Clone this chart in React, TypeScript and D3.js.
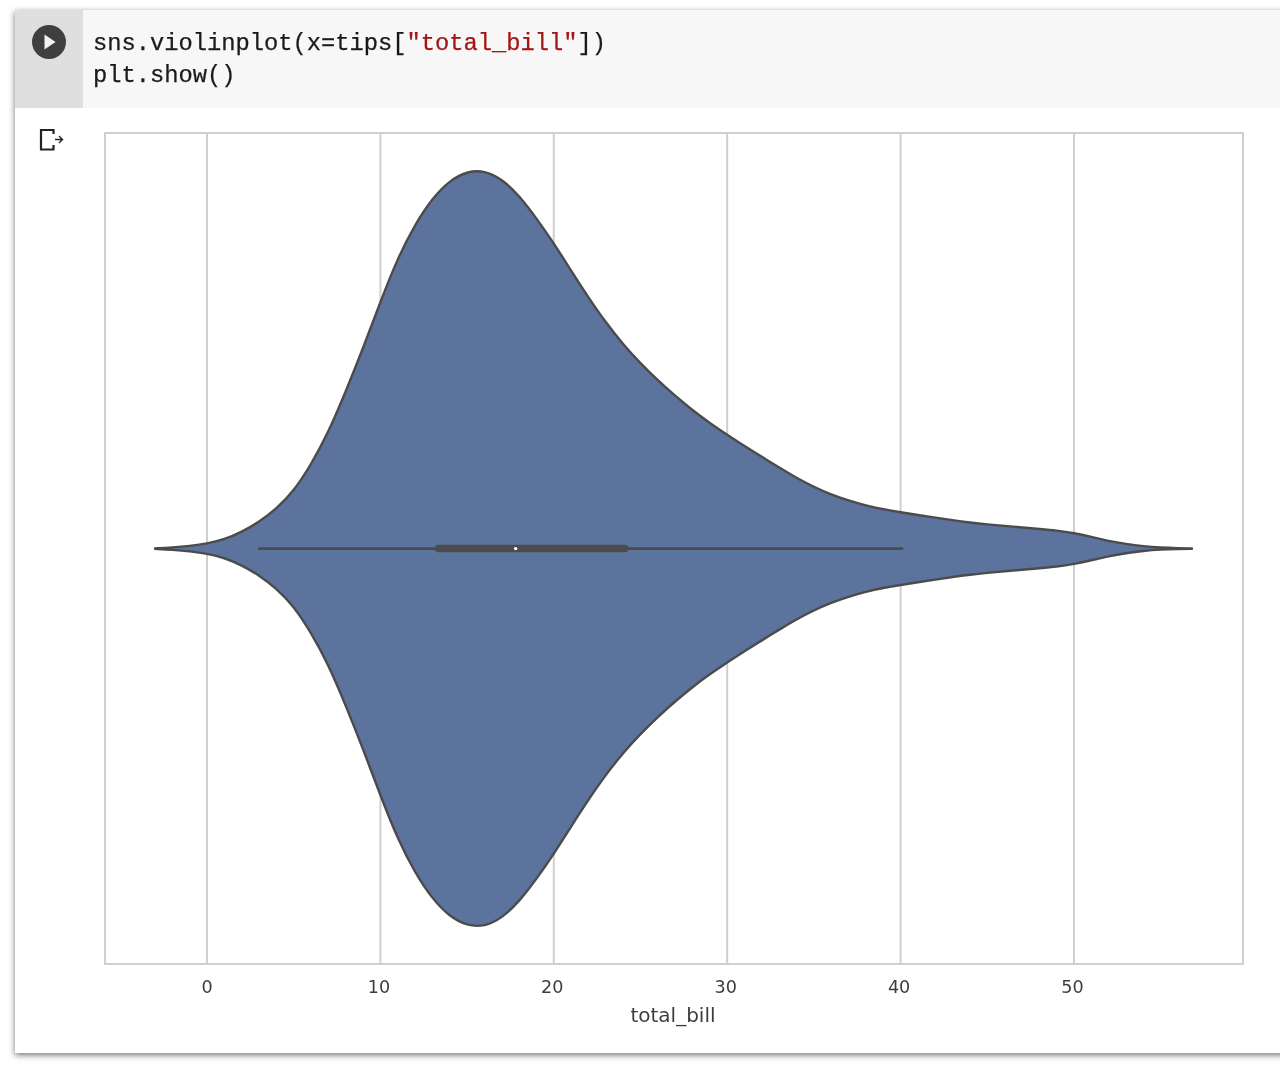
import React from "react";
import * as d3 from "d3";

const billValues = [-3, -2, -1, 0, 1, 2, 3, 4, 5, 6, 7, 8, 9, 10, 11, 12, 13, 14, 15, 16, 17, 18, 19, 20, 21, 22, 23, 24, 25, 26, 27, 28, 29, 30, 31, 32, 33, 34, 35, 36, 37, 38, 39, 40, 41, 42, 43, 44, 45, 46, 47, 48, 49, 50, 51, 52, 53, 54, 55, 56, 56.8];
const densityValues = [0.0005, 0.003, 0.007, 0.013, 0.024, 0.044, 0.07, 0.105, 0.152, 0.222, 0.307, 0.415, 0.53, 0.653, 0.769, 0.858, 0.927, 0.974, 0.998, 1, 0.978, 0.934, 0.874, 0.808, 0.735, 0.664, 0.598, 0.54, 0.49, 0.445, 0.404, 0.366, 0.332, 0.301, 0.271, 0.243, 0.214, 0.187, 0.163, 0.143, 0.127, 0.114, 0.104, 0.096, 0.089, 0.082, 0.075, 0.069, 0.064, 0.06, 0.056, 0.052, 0.048, 0.041, 0.031, 0.02, 0.012, 0.006, 0.0025, 0.001, 0.0005];
const tickValues = [0, 10, 20, 30, 40, 50];
const whisker = [2.95, 40.15];
const quartiles = [13.35, 24.1];
const median = 17.8;
const axisLabel = "total_bill";

const plot = { left: 105, right: 1243, top: 133, bottom: 964, mid: 548.6, half: 378 };
const x = d3.scaleLinear().domain([0, 50]).range([207, 1074]);
const w = d3.scaleLinear().domain([0, 1]).range([0, plot.half]);
const points = billValues.map((b, i) => ({ b, d: densityValues[i] }));
const violin = d3.area<{ b: number; d: number }>()
  .x(p => x(p.b))
  .y0(p => plot.mid + w(p.d))
  .y1(p => plot.mid - w(p.d))
  .curve(d3.curveBasis)(points) as string;

const mono = "'Liberation Mono', monospace";
const codeStyle: React.CSSProperties = { fontFamily: mono, fontSize: 23.75, fill: "#1a1a1a" };

export default function App() {
  return (
    <svg width={1280} height={1066} style={{ position: "absolute", left: 0, top: 0, background: "#fff" }}>
      <defs>
        <filter id="shadow" x="-5%" y="-5%" width="110%" height="110%">
          <feDropShadow dx="0" dy="2" stdDeviation="3" floodColor="#000" floodOpacity="0.55" />
        </filter>
        <filter id="soft" x="-2%" y="-2%" width="104%" height="104%">
          <feGaussianBlur stdDeviation="0.55" />
        </filter>
      </defs>
      <rect x={15} y={10} width={1285} height={1043} fill="#fff" filter="url(#shadow)" />
      <rect x={15} y={10} width={1265} height={98} fill="#f7f7f7" />
      <rect x={15} y={10} width={68} height={98} fill="#dfdfdf" />
      <circle cx={49} cy={42} r={17} fill="#3f3f3f" />
      <path d="M44.5 34.5 L55.5 42 L44.5 49.5 Z" fill="#f3f3f3" />
      <g filter="url(#soft)">
        <text x={93} y={50} style={codeStyle} stroke="#1a1a1a" strokeWidth={0.25}>
          sns.violinplot(x=tips[<tspan fill="#a31515" stroke="#a31515">"total_bill"</tspan>])
        </text>
        <text x={93} y={82} style={codeStyle} stroke="#1a1a1a" strokeWidth={0.25}>plt.show()</text>
      </g>
      <path d="M53.5 134 V130 H41 V149.5 H53.5 V145" fill="none" stroke="#222" strokeWidth={2.2} />
      <path d="M55 139.5 H62.5 M59 136 L62.5 139.5 L59 143" fill="none" stroke="#222" strokeWidth={1.4} />

      <g filter="url(#soft)">
        {tickValues.map(t => (
          <line key={t} x1={x(t)} x2={x(t)} y1={plot.top} y2={plot.bottom} stroke="#cfcfcf" strokeWidth={2} />
        ))}
        <rect x={plot.left} y={plot.top} width={plot.right - plot.left} height={plot.bottom - plot.top} fill="none" stroke="#cfcfcf" strokeWidth={2} />
        <path d={violin} fill="#5c739d" stroke="#4c4c4c" strokeWidth={2.4} strokeLinejoin="round" />
        <line x1={x(whisker[0])} x2={x(whisker[1])} y1={plot.mid} y2={plot.mid} stroke="#4c4c4c" strokeWidth={2.6} />
        <line x1={x(quartiles[0])} x2={x(quartiles[1])} y1={plot.mid} y2={plot.mid} stroke="#4c4c4c" strokeWidth={7.5} strokeLinecap="round" />
        <circle cx={x(median)} cy={plot.mid} r={1.7} fill="#fff" />
        {tickValues.map(t => (
          <text key={t} x={x(t) - (t === 0 ? 0 : 1.5)} y={993} textAnchor="middle" fontFamily="'DejaVu Sans'" fontSize={17.6} fill="#3d3d3d">{t}</text>
        ))}
        <text x={673} y={1022} textAnchor="middle" fontFamily="'DejaVu Sans'" fontSize={20} fill="#3d3d3d">{axisLabel}</text>
      </g>
    </svg>
  );
}
